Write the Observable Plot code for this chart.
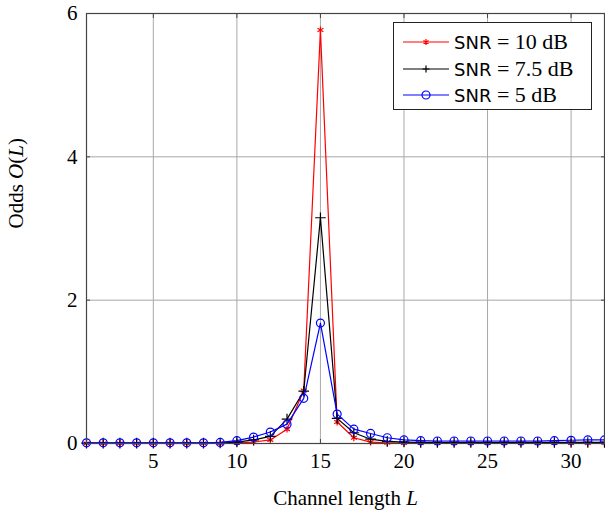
<!DOCTYPE html>
<html>
<head>
<meta charset="utf-8">
<script src="https://cdn.jsdelivr.net/npm/d3@7"></script>
<script src="https://cdn.jsdelivr.net/npm/@observablehq/plot@0.6"></script>
<style>
  html, body { margin: 0; padding: 0; background: #fff; }
  #wrap { position: relative; width: 605px; height: 510px; }
  #wrap svg text { font-family: "Liberation Serif", "Times New Roman", serif; }
  #legend {
    position: absolute; left: 393px; top: 22px; width: 199px; height: 88px;
    border: 1px solid #222; background: #fff; box-sizing: border-box;
    font-family: "Liberation Serif", "Times New Roman", serif; font-size: 22px; color: #000;
  }
  .row { position: absolute; left: 9px; height: 22px; display: flex; align-items: center; white-space: nowrap; }
  .row svg { margin-right: 5px; }
  .sans { font-family: "DejaVu Sans", sans-serif; font-size: 18px; }
</style>
</head>
<body>
<div id="wrap"></div>
<script>
const L = [1,2,3,4,5,6,7,8,9,10,11,12,13,14,15,16,17,18,19,20,21,22,23,24,25,26,27,28,29,30,31,32];
const snr10 = [0.002,0.002,0.002,0.002,0.002,0.002,0.002,0.002,0.002,0.01,0.02,0.05,0.2,0.74,5.77,0.3,0.08,0.02,0.01,0.005,0.005,0.005,0.005,0.005,0.005,0.005,0.005,0.005,0.005,0.005,0.005,0.005];
const snr75 = [0.005,0.005,0.005,0.005,0.005,0.005,0.005,0.005,0.006,0.02,0.05,0.1,0.34,0.73,3.15,0.35,0.15,0.06,0.03,0.02,0.015,0.015,0.015,0.015,0.015,0.015,0.015,0.015,0.015,0.015,0.015,0.015];
const snr5 = [0.01,0.01,0.01,0.01,0.01,0.01,0.01,0.01,0.015,0.04,0.09,0.16,0.27,0.63,1.68,0.41,0.2,0.14,0.08,0.05,0.04,0.035,0.035,0.035,0.035,0.035,0.035,0.035,0.04,0.045,0.05,0.05];
const seriesNames = ["SNR = 10 dB", "SNR = 7.5 dB", "SNR = 5 dB"];
const xTicks = [5,10,15,20,25,30];
const yTicks = [0,2,4,6];
const xLabel = "Channel length L";
const yLabel = "Odds O(L)";

const mk = (vals) => L.map((x, i) => ({x, y: vals[i]}));
const d10 = mk(snr10), d75 = mk(snr75), d5 = mk(snr5);

const blank = () => "";

const plot = Plot.plot({
  width: 605,
  height: 510,
  marginLeft: 86,
  marginRight: 1,
  marginTop: 13,
  marginBottom: 67,
  style: { fontFamily: "'Liberation Serif', serif", fontSize: "20px", background: "#fff", overflow: "visible" },
  x: { domain: [1, 32], label: null },
  y: { domain: [0, 6], label: null },
  marks: [
    Plot.gridX(xTicks, { stroke: "#a8a8a8", strokeOpacity: 1, strokeWidth: 1 }),
    Plot.gridY(yTicks, { stroke: "#a8a8a8", strokeOpacity: 1, strokeWidth: 1 }),
    Plot.axisX({ ticks: xTicks, tickSize: 0, tickPadding: 10, tickFormat: "d", fontSize: 21 }),
    Plot.axisY({ ticks: yTicks, tickSize: 0, tickPadding: 9, tickFormat: "d", fontSize: 21 }),
    Plot.axisX({ ticks: xTicks, tickSize: -4, tickFormat: blank, stroke: "#444" }),
    Plot.axisX({ anchor: "top", ticks: xTicks, tickSize: -4, tickFormat: blank, stroke: "#444", label: null }),
    Plot.axisY({ ticks: yTicks, tickSize: -4, tickFormat: blank, stroke: "#444" }),
    Plot.axisY({ anchor: "right", ticks: yTicks, tickSize: -4, tickFormat: blank, stroke: "#444", label: null }),
    Plot.line(d10, { x: "x", y: "y", stroke: "#ff0000", strokeWidth: 1.2 }),
    Plot.dot(d10, { x: "x", y: "y", symbol: "asterisk", r: 3.2, stroke: "#ff0000", strokeWidth: 1.2 }),
    Plot.line(d75, { x: "x", y: "y", stroke: "#000", strokeWidth: 1.2 }),
    Plot.dot(d75, { x: "x", y: "y", symbol: "plus", r: 3.5, stroke: "#000", strokeWidth: 1.2 }),
    Plot.line(d5, { x: "x", y: "y", stroke: "#0000ff", strokeWidth: 1.2 }),
    Plot.dot(d5, { x: "x", y: "y", symbol: "circle", r: 4, stroke: "#0000ff", fill: "none", strokeWidth: 1.2 }),
    Plot.frame({ stroke: "#444", strokeWidth: 1.2 }),
    Plot.text([xLabel], { frameAnchor: "bottom", dy: 61, fontSize: 21, text: d => d }),
    Plot.text([yLabel], { frameAnchor: "left", dx: -70, rotate: -90, fontSize: 21, text: d => d })
  ]
});

const wrap = document.getElementById("wrap");
wrap.appendChild(plot);

// italicize math letters in axis labels
function italicize(label, parts) {
  const t = Array.from(plot.querySelectorAll("text")).find(t => t.textContent === label);
  if (!t) return;
  t.textContent = "";
  for (const [s, it] of parts) {
    const ts = document.createElementNS("http://www.w3.org/2000/svg", "tspan");
    ts.textContent = s;
    if (it) ts.setAttribute("font-style", "italic");
    t.appendChild(ts);
  }
}
italicize(yLabel, [["Odds ", false], ["O", true], ["(", false], ["L", true], [")", false]]);
italicize(xLabel, [["Channel length ", false], ["L", true]]);

// legend
const colors = ["#ff0000", "#000", "#0000ff"];
const symbols = ["asterisk", "plus", "circle"];
const legend = document.createElement("div");
legend.id = "legend";
seriesNames.forEach((name, i) => {
  const row = document.createElement("div");
  row.className = "row";
  row.style.top = (8 + i * 26.5) + "px";
  const s = d3.create("svg").attr("width", 46).attr("height", 20);
  s.append("line").attr("x1", 0).attr("x2", 46).attr("y1", 10).attr("y2", 10)
    .attr("stroke", colors[i]).attr("stroke-width", 1.2);
  if (symbols[i] === "circle") {
    s.append("circle").attr("cx", 23).attr("cy", 10).attr("r", 4).attr("fill", "none").attr("stroke", colors[i]).attr("stroke-width", 1.2);
  } else if (symbols[i] === "plus") {
    s.append("path").attr("d", "M19.5,10H26.5M23,6.5V13.5").attr("stroke", colors[i]).attr("stroke-width", 1.2);
  } else {
    s.append("path").attr("d", "M23,7V13M20.4,8.5L25.6,11.5M20.4,11.5L25.6,8.5").attr("stroke", colors[i]).attr("stroke-width", 1.2);
  }
  row.appendChild(s.node());
  const lab = document.createElement("span");
  const idx = name.indexOf(" = ");
  lab.innerHTML = '<span class="sans">' + name.slice(0, idx) + '</span>' + name.slice(idx).replace(/ /g, "&nbsp;");
  row.appendChild(lab);
  legend.appendChild(row);
});
wrap.appendChild(legend);
</script>
</body>
</html>
